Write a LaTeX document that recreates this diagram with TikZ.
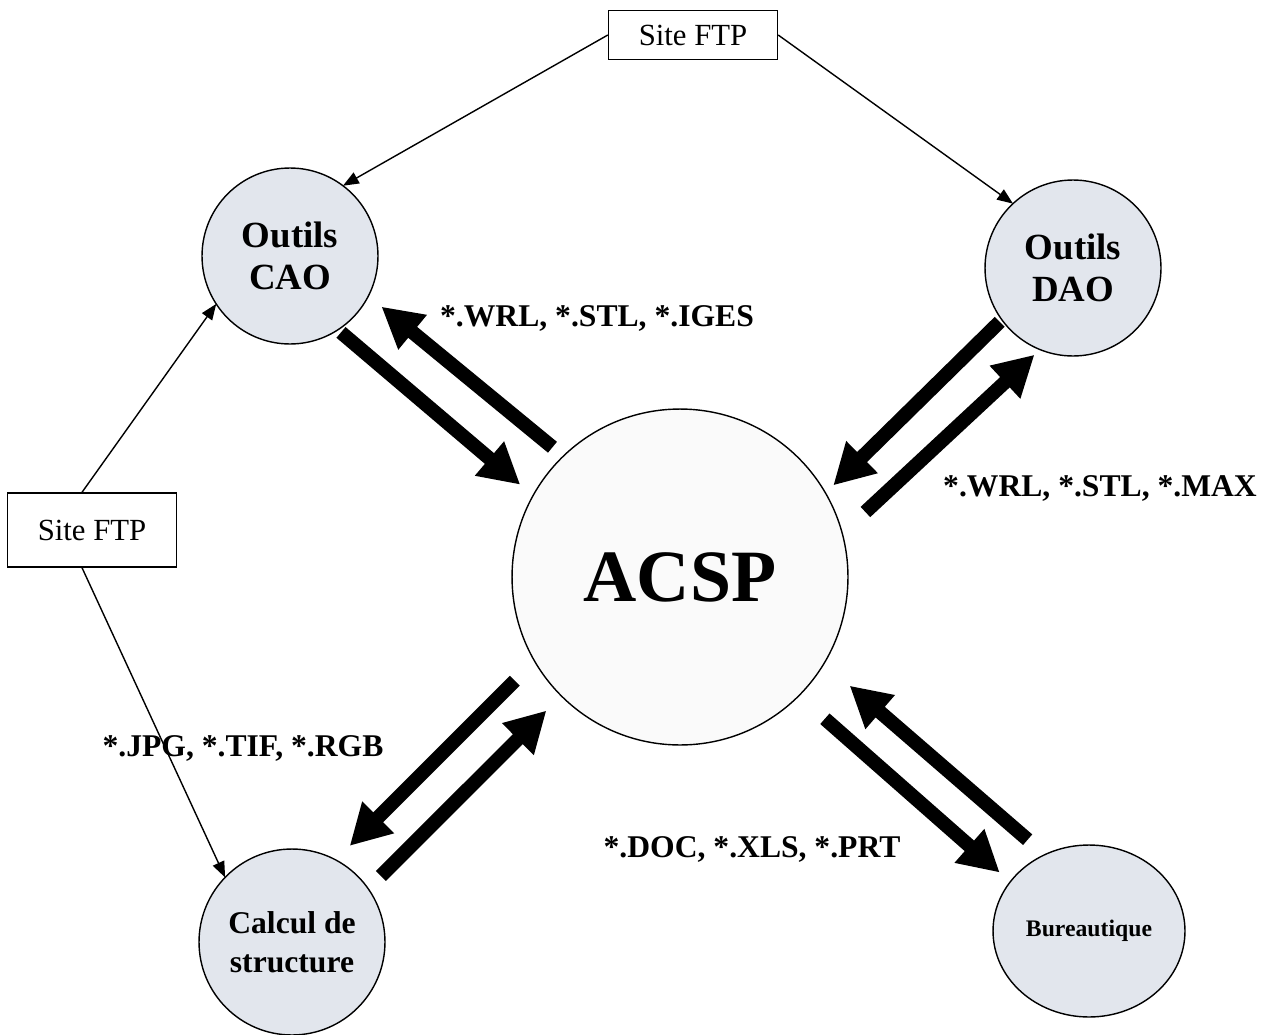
\documentclass[tikz,border=0pt]{standalone}
\usepackage{fontspec}
\setmainfont{Liberation Serif}
\usetikzlibrary{arrows.meta,shapes.geometric}
\definecolor{toolgray}{RGB}{226,230,237}

\begin{document}
\begin{tikzpicture}[x=0.02cm,y=-0.02cm,
    outil/.style={circle,draw,line width=0.8pt,fill=toolgray,inner sep=0pt,outer sep=0pt,
      minimum size=3.52cm,align=center,font=\bfseries\fontsize{21}{24}\selectfont},
    site/.style={draw,line width=0.8pt,minimum width=3.38cm,inner sep=0pt,
      font=\fontsize{17.5}{20}\selectfont},
    lien/.style={line width=0.8pt,-{Triangle[length=9pt,width=7pt]}},
    flux/.style={line width=8pt,-{Triangle[length=23pt,width=24pt]}},
    ext/.style={font=\bfseries\fontsize{18}{21}\selectfont}]
			\useasboundingbox (0,0) rectangle (1267,1034);
			% les outils autour
			\node[outil] (cao) at (290,256) {Outils\\CAO};
			\node[outil] (dao) at (1073,268) {Outils\\DAO};
			\node[outil,minimum size=3.72cm,font=\bfseries\fontsize{18}{22}\selectfont] (calc) at (292,942) {Calcul de\\structure};
			\node[outil,ellipse,minimum width=3.84cm,minimum height=3.44cm,font=\bfseries\fontsize{13.5}{16}\selectfont] (bur) at (1089,931) {Bureautique};
			\node[circle,draw,line width=0.8pt,fill=gray!4,inner sep=0pt,outer sep=0pt,minimum size=6.72cm,
			  font=\bfseries\fontsize{42}{48}\selectfont] (acsp) at (680,577) {ACSP};
			% sites FTP
			\node[site,minimum height=0.98cm] (ftph) at (693,35) {Site FTP};
			\node[site,minimum height=1.48cm] (ftpg) at (92,530) {Site FTP};
			\draw[lien] (ftph.west) -- (cao.53);
			\draw[lien] (ftph.east) -- (dao.133);
			\draw[lien] ([xshift=-0.2cm]ftpg.north) -- (cao.213);
			\draw[lien] ([xshift=-0.2cm]ftpg.south) -- (calc.136);
			% echanges de fichiers
			\draw[flux,shorten <=8pt,shorten >=9.6pt] (acsp.134.8) -- (cao.-27.8);
			\draw[flux,shorten <=2.3pt,shorten >=9.6pt] (cao.-57) -- (acsp.151.2);
			\draw[flux,shorten <=1.7pt,shorten >=6.2pt] (dao.216.5) -- (acsp.30.1);
			\draw[flux,shorten <=18pt,shorten >=4.3pt] (acsp.15.6) -- (dao.248.5);
			\draw[flux,shorten <=15.9pt,shorten >=11.3pt] (acsp.210) -- (calc.62.1);
			\draw[flux,shorten <=10.2pt,shorten >=11.9pt] (calc.35.8) -- (acsp.225.6);
			\draw[flux,shorten <=19.8pt,shorten >=8pt] (acsp.-45.6) -- (bur.148.4);
			\draw[flux,shorten <=13pt,shorten >=19.3pt] (bur.120.3) -- (acsp.-31.3);
			% formats
			\node[ext] (iges) at (597,318) {*.WRL, *.STL, *.IGES};
			\node[ext] (max) at (1100,488) {*.WRL, *.STL, *.MAX};
			\node[ext] (jpg) at (243,748) {*.JPG, *.TIF, *.RGB};
			\node[ext] (doc) at (752,849) {*.DOC, *.XLS, *.PRT};
  		\end{tikzpicture}
\end{document}
